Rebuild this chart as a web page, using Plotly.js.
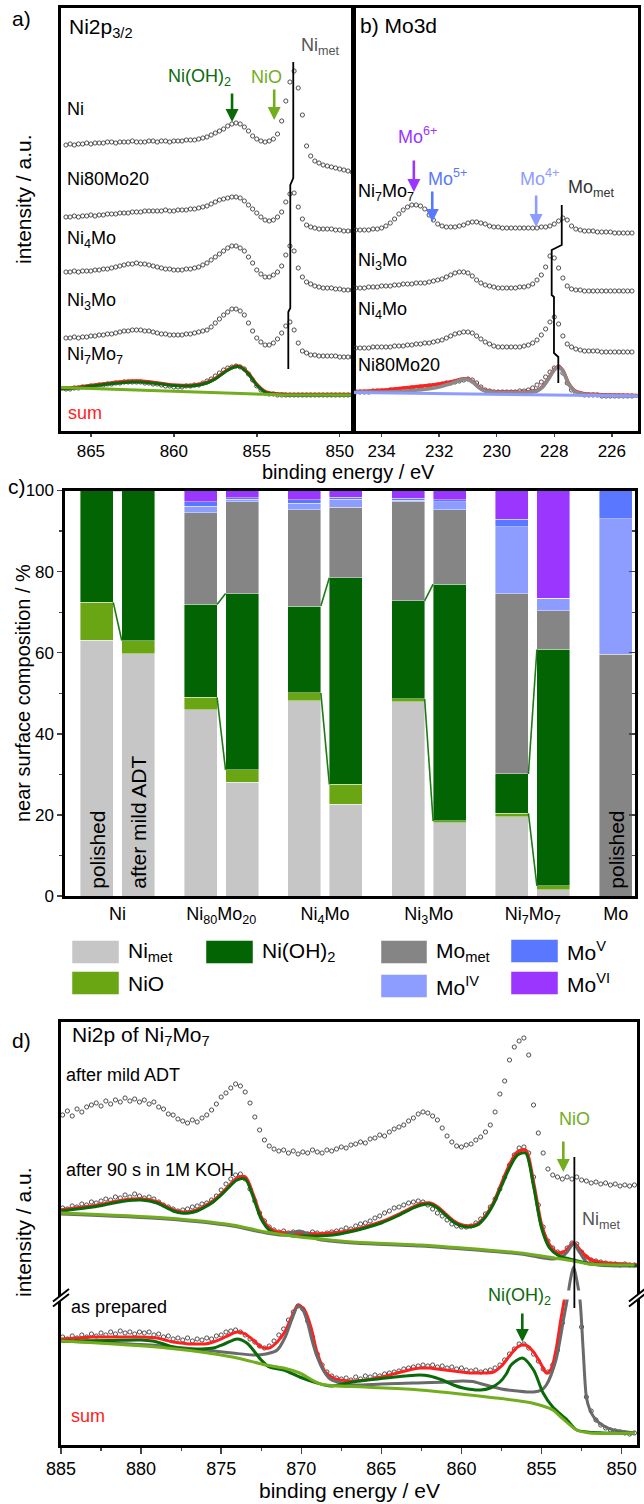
<!DOCTYPE html>
<html><head><meta charset="utf-8">
<script src="https://cdn.plot.ly/plotly-3.0.1.min.js"></script>
<style>body{margin:0;padding:0;background:#fff}#chart{width:644px;height:1504px}</style>
</head><body><div id="chart"></div>
<script>
// ---------------- DATA ----------------
// Panel a: Ni2p3/2 (binding energy grid, eV) and stacked intensities (a.u.)
const energyA = [866.5,866.25,866,865.75,865.5,865.25,865,864.75,864.5,864.25,864,863.75,863.5,863.25,863,862.75,862.5,862.25,862,861.75,861.5,861.25,861,860.75,860.5,860.25,860,859.75,859.5,859.25,859,858.75,858.5,858.25,858,857.75,857.5,857.25,857,856.75,856.5,856.25,856,855.75,855.5,855.25,855,854.75,854.5,854.25,854,853.75,853.5,853.25,853,852.75,852.5,852.25,852,851.75,851.5,851.25,851,850.75,850.5,850.25,850,849.75,849.5,849.25];
const aNi = [286,287,286,287,287,288,287,288,288,288,289,289,288,289,289,289,290,289,289,289,290,290,289,290,290,289,290,290,290,291,291,291,292,293,294,296,298,300,302,305,307,308,307,304,300,295,292,290,289,290,292,297,310,330,349,360,343,316,285,275,270,268,266,265,264,263,262,261,260,259];
const aNi80Mo20 = [214,214,215,214,215,215,216,215,216,216,217,217,217,218,218,218,219,219,219,220,220,220,220,220,221,220,220,221,221,221,222,222,223,224,225,227,229,231,232,233,234,234,233,230,226,222,218,214,211,210,211,214,219,229,237,238,224,212,206,204,203,202,202,202,202,201,201,200,200,200];
const aNi4Mo = [159,159,160,159,160,160,160,161,161,162,162,163,164,165,166,167,167,168,167,167,166,165,164,163,162,162,161,161,161,162,162,163,164,166,168,171,174,177,180,183,185,185,183,180,174,168,161,157,154,154,156,159,165,176,185,180,163,154,149,147,145,144,143,143,143,142,142,141,141,141];
const aNi3Mo = [93,93,94,93,94,94,95,95,96,96,97,97,98,99,100,100,101,101,101,100,100,99,98,97,97,96,96,96,96,97,97,98,99,100,101,104,108,112,116,119,122,122,120,116,108,100,93,89,86,86,88,92,98,105,109,101,88,80,78,76,76,75,75,75,75,75,74,74,74,74];
const aNi7Mo7 = [42,42,43,43,44,44,45,45,46,46,47,47,48,48,49,49,49,49,49,48,48,47,47,46,45,45,44,44,44,45,45,46,46,48,50,52,55,58,61,63,64,65,64,62,57,51,45,41,38,37,37,36,36,36,36,36,36,36,36,36,36,36,36,36,36,36,36,36,36,36];
// fit of Ni7Mo7 (panel a)
const fitEnergyA = [866.8,866,865,864,863,862.5,862,861,860,859.5,859,858.5,858,857.5,857,856.5,856.2,856,855.5,855,854.5,854,853.5,853,852,851,850,849.2];
const fitA_NiOH2 = [42,43,45,47,48.5,49,49,47.5,45.5,45,45,46,48,52,58,63,64.5,64,57,46,39,37,36.5,36,36,36,36,36];
const fitA_sum = [42.5,43.5,45.5,47.5,49.5,50,50,48,46,45.5,45.5,46.5,48.5,52.5,58.5,63.5,65,64.5,57.5,46.5,39.5,37.5,37,36.5,36.5,36.5,36.5,36.5];
const baseEnergyA = [866.8,854.5,853.5,849.2];
const baseA = [43.5,37.3,36.2,36];
const nimetLineE = [852.8,852.8,852.98,852.98,853.1,853.1];
const nimetLineI = [369,253,246,123,119,62];

// Panel b: Mo3d
const energyB = [234.9,234.75,234.6,234.45,234.3,234.15,234,233.85,233.7,233.55,233.4,233.25,233.1,232.95,232.8,232.65,232.5,232.35,232.2,232.05,231.9,231.75,231.6,231.45,231.3,231.15,231,230.85,230.7,230.55,230.4,230.25,230.1,229.95,229.8,229.65,229.5,229.35,229.2,229.05,228.9,228.75,228.6,228.45,228.3,228.15,228,227.85,227.7,227.55,227.4,227.25,227.1,226.95,226.8,226.65,226.5,226.35,226.2,226.05,225.9,225.75,225.6,225.45,225.3];
const bNi7Mo7 = [201,201,201,201,202,202,203,205,208,212,217,221,224,226,226,225,222,216,211,207,205,204,204,204,205,206,208,209,209,208,207,205,204,204,203,203,203,203,203,203,203,203,203,204,204,205,207,210,213,211,205,202,201,200,200,200,199,199,199,199,198,198,198,198,198];
const bNi3Mo = [143,143,143,144,144,144,145,145,145,146,146,147,147,147,148,148,148,149,150,151,152,154,156,158,159,159,158,155,151,148,146,145,144,143,143,143,143,143,144,144,145,147,151,156,164,175,173,163,153,145,142,141,141,140,140,140,140,140,140,140,140,140,140,140,140];
const bNi4Mo = [83,83,83,83,84,84,84,84,84,85,85,85,86,86,87,87,88,88,89,90,91,93,95,97,98,99,99,98,95,92,89,87,85,84,84,84,84,84,84,85,86,88,91,96,102,109,114,107,95,87,84,82,81,80,80,80,80,79,79,79,79,79,79,79,79];
const bNi80Mo20 = [39,39,39,39,40,40,40,40,41,41,41,42,42,43,43,44,44,45,45,46,47,48,48,49,50,51,52,51,48,44,41,40,39,39,39,39,39,39,40,40,41,43,46,49,54,59,63,64,58,48,41,38,37,36,36,36,36,35,35,35,35,35,35,35,35];
const fitEnergyB = [234.9,234.4,233.9,233.4,232.9,232.4,232.0,231.7,231.4,231.2,231.0,230.8,230.6,230.4,230.1,229.6,229.0,228.6,228.4,228.2,228.0,227.85,227.7,227.5,227.3,227.0,226.5,225.9,225.1];
const fitB_Momet = [39,39,39,39.5,40.5,42,44,46.5,49.5,51.5,51.5,48,43,40,39,38.5,38.5,40,44,52,61,64,60,47,40,37,36,35.5,35];
const fitB_sum = [39.5,40,41,42.5,44,45.5,47,48.5,50.5,52,52,48.5,43.5,40.5,39.5,39,39,40.5,44.5,52.5,61.5,64.5,60.5,47.5,40.5,37.5,36.5,36,35.5];
const baseEnergyB = [234.96,225.1];
const baseB = [38.5,35];
const mometLineE = [227.74,227.74,228.09,228.09,228.01,228.01,227.86,227.86];
const mometLineI = [226,186,181,136,134,78,74,48];

// Panel c: near surface composition (%)
const groups = ['Ni','Ni80Mo20','Ni4Mo','Ni3Mo','Ni7Mo7','Mo'];
const groupLabels = ['Ni','Ni<sub>80</sub>Mo<sub>20</sub>','Ni<sub>4</sub>Mo','Ni<sub>3</sub>Mo','Ni<sub>7</sub>Mo<sub>7</sub>','Mo'];
const barGroup = ['Ni','Ni','Ni80Mo20','Ni80Mo20','Ni4Mo','Ni4Mo','Ni3Mo','Ni3Mo','Ni7Mo7','Ni7Mo7','Mo'];
const barState = ['polished','ADT','polished','ADT','polished','ADT','polished','ADT','polished','ADT','polished'];
const compNames = ['Ni<sub>met</sub>','NiO','Ni(OH)<sub>2</sub>','Mo<sub>met</sub>','Mo<sup>IV</sup>','Mo<sup>V</sup>','Mo<sup>VI</sup>'];
const cNimet  = [63.1,59.7,45.9,28.0,48.1,22.6,47.9,18.1,19.6,1.5,0];
const cNiO    = [9.3,3.3,3.1,3.1,2.0,4.9,0.7,0.4,0.8,1.0,0];
const cNiOH2  = [27.6,37.0,22.9,43.5,21.4,51.0,24.2,58.4,9.7,58.3,0];
const cMomet  = [0,0,22.6,22.6,23.7,17.4,24.4,18.3,44.4,9.6,59.6];
const cMoIV   = [0,0,1.6,0.6,1.6,1.9,0.4,2.0,16.6,3.0,33.4];
const cMoV    = [0,0,1.1,0.4,0.9,0.5,0.5,0.5,1.8,0.0,7.0];
const cMoVI   = [0,0,2.8,1.8,2.3,1.7,1.9,2.3,7.1,26.6,0];

// Panel d: Ni2p of Ni7Mo7
const energyD = [884.9,884.6,884.3,884.0,883.7,883.4,883.1,882.8,882.5,882.2,881.9,881.6,881.3,881.0,880.7,880.4,880.1,879.8,879.5,879.2,878.9,878.6,878.3,878.0,877.7,877.4,877.1,876.8,876.5,876.2,875.9,875.6,875.3,875.0,874.7,874.4,874.1,873.8,873.5,873.2,872.9,872.6,872.3,872.0,871.7,871.4,871.1,870.8,870.5,870.2,869.9,869.6,869.3,869.0,868.7,868.4,868.1,867.8,867.5,867.2,866.9,866.6,866.3,866.0,865.7,865.4,865.1,864.8,864.5,864.2,863.9,863.6,863.3,863.0,862.7,862.4,862.1,861.8,861.5,861.2,860.9,860.6,860.3,860.0,859.7,859.4,859.1,858.8,858.5,858.2,857.9,857.6,857.3,857.0,856.7,856.4,856.1,855.8,855.5,855.2,854.9,854.6,854.3,854.0,853.7,853.4,853.1,852.8,852.5,852.2,851.9,851.6,851.3,851.0,850.7,850.4,850.1,849.8,849.5,849.2];
const dAfterADT = [330,334,329,336,333,338,340,342,339,344,341,345,343,347,344,346,343,345,341,343,338,336,331,330,326,324,322,325,323,327,330,335,341,348,352,357,361,359,353,342,328,315,305,299,296,294,295,292,294,291,293,292,295,293,292,295,294,296,298,297,300,301,303,302,306,307,310,309,313,316,318,320,324,327,331,333,332,329,325,317,309,303,299,298,300,301,305,308,313,320,333,351,364,385,398,404,407,390,340,312,292,276,270,268,266,268,266,268,265,264,262,263,261,262,260,261,259,260,259,260];
const dAfterKOH = [237,236,239,238,241,240,243,242,244,246,245,248,247,250,248,251,249,247,248,246,243,240,238,236,234,235,236,238,239,241,242,245,249,255,261,266,270,271,266,256,244,232,224,218,215,213,214,212,213,211,212,211,213,212,211,212,213,214,215,217,216,219,221,222,224,227,229,232,234,237,238,240,242,243,244,243,240,236,232,229,225,221,219,218,218,219,222,226,231,238,246,256,268,280,290,297,298,292,268,240,218,204,197,193,192,197,202,201,193,188,185,184,183,182,181,181,180,181,180,180];
const dAsPrepared = [108,106,109,107,110,108,111,109,112,110,113,111,114,112,113,111,113,112,113,110,111,108,109,106,107,105,107,104,106,105,107,106,109,110,113,114,115,113,110,106,103,99,97,99,104,110,116,125,133,139,136,124,108,91,80,73,69,67,66,67,65,68,66,69,68,70,69,71,72,73,74,76,77,78,79,80,79,80,78,79,77,78,76,77,75,74,75,73,74,75,77,80,85,91,96,101,101,97,91,84,76,73,80,95,122,null,null,null,118,48,34,25,20,17,15,14,13,12,11,12];
// fits, after 90 s in KOH
const fitEnergyKOH = [885,884,883,882,881,880,879,878.5,878,877.5,877,876.5,876,875.5,875,874.5,874,873.5,873,872.5,872,871.5,871,870.5,870,869,868,867,866,865,864,863,862.5,862,861.5,861,860.5,860,859.5,859,858.5,858,857.5,857,856.5,856,855.5,855,854.5,854,853.5,853,852.5,852,851.5,851,850,849];
const koh_sum = [235,237,239,242,245,246,243,239,235,233,233,235,239,244,251,259,267,268,250,228,217,213,212,212,212,211,212,214,218,223,230,238,241,242,238,231,224,220,219,221,229,242,261,280,293,295,262,220,200,192,194,202,193,186,183,182,181,180];
const koh_NiOH2 = [234,236,238,241,244,245,242,238,234,232,232,234,238,243,250,258,265,266,248,226,215,211,210,209,209,209,210,213,217,222,229,237,240,241,237,230,223,219,218,220,228,241,259,277,290,292,259,217,197,190,187,185,183,181,181,180,180,179];
const kohNimetE = [885,878.4,874.3,872.2,871.2,870.6,870.1,869.6,869,868.2,866.8,862.6,858.4,856.3,854.4,853.8,853.4,853.0,852.6,852.2,851.5,849.2];
const koh_Nimet = [231,226,219,212,210,212,214,211,206,204,202,199,194,191,186,187,193,201,192,183,180,179];
const kohBaseE = [885,878.4,874.3,872.2,870.1,868.2,866.8,862.6,858.4,856.3,854.2,853,852,849.2];
const koh_base = [232,227,220,213,208,205,203,200,195,192,187,184,181,180];
// fits, as prepared
const prepSumE = [885,884,883,882,881,880,879,878.5,878,877.5,877,876.5,876,875.5,875,874.5,874,873.5,873,872.5,872,871.5,871,870.6,870.2,869.8,869.4,869,868.5,868,867,866,865,864,863,862.5,862,861.5,861,860.5,860,859.5,859,858.5,858,857.5,857,856.5,856,855.5,855,854.7,854.4,854.1,853.8,853.55];
const prep_sum = [106,107,108,108,108,108,107,105,103,102,101,101,101,103,106,110,113,111,105,98,97,103,114,128,140,135,118,92,73,67,64,65,68,72,76,77,77,76,75,74,73,72,72,72,73,79,89,98,100,93,80,72,76,95,125,148];
const prepNimetE = [885,882,879,878,876,874.3,873,872.2,871.5,871,870.6,870.2,869.9,869.6,869.3,869,868.6,868.2,867.5,866.8,865,863,861,860,859.3,858.5,857.5,856.5,855.5,855,854.7,854.1,853.6,853.4,853.2,853.0,852.8,852.6,852.4,852.2,852.0,851.6,851.0,850.5,849.2];
const prep_Nimet = [104,102,99.5,98,95,92,90,91,95,108,125,139,135,122,103,88,74,66,62,60,61,62,63,64,63.5,60,56,54,53,55,60,85,128,145,165,178,165,145,95,48,36,25,18,15,12];
const prepNiOH2E = [885,882,880,879.3,878.6,878,877.2,876.3,875.5,874.8,874.0,873.4,873.0,872.5,872.0,871.1,870.1,869.0,868.2,866.8,864.7,863.5,862.6,862,861.2,860.5,859.9,858.8,858.2,857.6,857.2,856.9,856.2,855.5,854.9,854.3,853.4,852.8,851.1,849.2];
const prep_NiOH2 = [104,104.5,105,104,101,98,96,96,97,101,106,102,95,85,78,75,68,62,59,63,67,69,70,69,65,60,57,55,57,63,71,80,87,75,52,38,25,15,12,12];
const prepBaseE = [885,878.4,874.3,872.2,871.1,870.1,868.8,866,862.6,858.4,855.6,854.3,853.8,852.8,852.0,849.2];
const prep_base = [104,97,88,80,77,72,61,58,55,48,42,35,28,15,12,12];
const nimetLineDE = [852.95,852.95];
const nimetLineDI = [288,137];
const breakLevelD = 150;

// ---------------- STYLE / LAYOUT HELPERS ----------------
const W = 644, H = 1504;
const FONT = 'Liberation Sans, Arial, Helvetica, sans-serif';
const px = x => x / W, py = y => 1 - y / H;
const COL = {data:'#3c3c3c', red:'#ff2020', dk:'#0a6a0a', lt:'#72ad1e', gray:'#707070',
  nimet:'#c6c6c6', nio:'#6aa514', nioh:'#026402', momet:'#858585', mo4:'#8c9cff', mo5:'#5a78ff', mo6:'#9a36ff', lav:'#8f9cff'};
const compColors = [COL.nimet, COL.nio, COL.nioh, COL.momet, COL.mo4, COL.mo5, COL.mo6];

const traces = [];
function pts(x, y, xa, ya) {
  traces.push({type:'scatter', mode:'markers', x, y, xaxis:xa, yaxis:ya, hoverinfo:'skip', showlegend:false,
    marker:{symbol:'circle-open', size:4.2, color:COL.data, line:{width:0.9, color:COL.data}}});
}
function line(x, y, xa, ya, color, width, shape) {
  traces.push({type:'scatter', mode:'lines', x, y, xaxis:xa, yaxis:ya, hoverinfo:'skip', showlegend:false,
    line:{color, width, shape: shape || 'spline', smoothing: 0.8}});
}

// Panel a
[aNi, aNi80Mo20, aNi4Mo, aNi3Mo, aNi7Mo7].forEach(s => pts(energyA, s, 'x', 'y'));
line(fitEnergyA, fitA_sum, 'x', 'y', COL.red, 3.5);
line(fitEnergyA, fitA_NiOH2, 'x', 'y', COL.dk, 3);
line(baseEnergyA, baseA, 'x', 'y', COL.lt, 3, 'linear');
line(nimetLineE, nimetLineI, 'x', 'y', '#000', 1.8, 'linear');

// Panel b
[bNi7Mo7, bNi3Mo, bNi4Mo, bNi80Mo20].forEach(s => pts(energyB, s, 'x2', 'y2'));
line(fitEnergyB, fitB_sum, 'x2', 'y2', COL.red, 3.5);
line(fitEnergyB, fitB_Momet, 'x2', 'y2', '#8a8a8a', 3.5);
line(baseEnergyB, baseB, 'x2', 'y2', COL.lav, 3, 'linear');
line(mometLineE, mometLineI, 'x2', 'y2', '#000', 1.8, 'linear');

// Panel c
const barX = barGroup.map((g, i) => groups.indexOf(g) + (barState[i] === 'polished' ? -0.2 : 0.2));
const barW = 0.318;
[cNimet, cNiO, cNiOH2, cMomet, cMoIV, cMoV, cMoVI].forEach((vals, k) => {
  traces.push({type:'bar', x:barX, y:vals, width:barW, xaxis:'x3', yaxis:'y3', showlegend:false, hoverinfo:'skip',
    marker:{color:compColors[k], line:{width:0.6, color:'rgba(255,255,255,0.7)'}}});
});
groups.forEach(g => {
  const ip = barGroup.findIndex((gg, i) => gg === g && barState[i] === 'polished');
  const ia = barGroup.findIndex((gg, i) => gg === g && barState[i] === 'ADT');
  if (ip < 0 || ia < 0) return;
  const lowP = cNimet[ip] + cNiO[ip], lowA = cNimet[ia] + cNiO[ia];
  const topP = lowP + cNiOH2[ip], topA = lowA + cNiOH2[ia];
  const x0 = barX[ip] + barW / 2, x1 = barX[ia] - barW / 2;
  line([x0, x1], [lowP, lowA], 'x3', 'y3', '#1f7a16', 1.6, 'linear');
  line([x0, x1], [topP, topA], 'x3', 'y3', '#1f7a16', 1.6, 'linear');
});
traces.push({type:'scatter', mode:'markers', x:[0], y:[0], xaxis:'x3', yaxis:'y6', marker:{opacity:0}, hoverinfo:'skip', showlegend:false});
const tickPos = groups.map(g => {
  const xs = barX.filter((_, i) => barGroup[i] === g);
  return xs.reduce((a, b) => a + b, 0) / xs.length;
});

// Panel d
pts(energyD, dAfterADT, 'x4', 'y4');
pts(energyD, dAfterKOH, 'x4', 'y4');
pts(energyD, dAsPrepared, 'x4', 'y4');
line(fitEnergyKOH, koh_sum, 'x4', 'y4', COL.red, 3.5);
line(kohNimetE, koh_Nimet, 'x4', 'y4', '#6a6a6a', 3);
line(fitEnergyKOH, koh_NiOH2, 'x4', 'y4', COL.dk, 3);
line(kohBaseE, koh_base, 'x4', 'y4', COL.lt, 3);
line(prepSumE, prep_sum, 'x4', 'y4', COL.red, 3);
line(prepNimetE, prep_Nimet, 'x4', 'y4', '#6a6a6a', 3);
line(prepNiOH2E, prep_NiOH2, 'x4', 'y4', COL.dk, 3);
line(prepBaseE, prep_base, 'x4', 'y4', COL.lt, 3);
line([853.75, 852.3], [breakLevelD, breakLevelD], 'x4', 'y4', '#ffffff', 9, 'linear');
line(nimetLineDE, nimetLineDI, 'x4', 'y4', '#000', 1.8, 'linear');

// ---------------- AXES ----------------
const frame = {showline:true, mirror:true, linewidth:2.6, linecolor:'#000', showgrid:false, zeroline:false};
const tickF = {family:FONT, size:18, color:'#000'};
const tickC = {family:FONT, size:17, color:'#000'};
const layout = {
  width:W, height:H, margin:{l:0, r:0, t:0, b:0}, paper_bgcolor:'#fff', plot_bgcolor:'#fff',
  font:{family:FONT, color:'#000'}, showlegend:false, barmode:'stack', bargap:0,
  xaxis: Object.assign({}, frame, {domain:[px(61), px(353)], range:[866.8, 849.2], anchor:'y', tick0:850, dtick:5,
    ticks:'outside', ticklen:3, tickwidth:1.5, tickfont:tickC}),
  yaxis: Object.assign({}, frame, {domain:[py(431), py(8)], range:[0, 423], anchor:'x', showticklabels:false, ticks:''}),
  xaxis2: Object.assign({}, frame, {domain:[px(354), px(638)], range:[234.96, 225.09], anchor:'y2', tick0:226, dtick:2,
    ticks:'outside', ticklen:3, tickwidth:1.5, tickfont:tickC}),
  yaxis2: Object.assign({}, frame, {domain:[py(431), py(8)], range:[0, 423], anchor:'x2', showticklabels:false, ticks:''}),
  xaxis3: Object.assign({}, frame, {domain:[px(65), px(635)], range:[-0.506, 4.986], anchor:'y3', tickvals:tickPos,
    ticktext:groupLabels, ticks:'', tickfont:tickF}),
  yaxis3: Object.assign({}, frame, {domain:[py(896), py(490.5)], range:[0, 100], anchor:'x3', dtick:20, ticks:'outside',
    ticklen:5, tickwidth:1.5, tickfont:tickC, minor:{dtick:10, ticks:'outside', ticklen:3, tickwidth:1.2}}),
  yaxis6: {overlaying:'y3', side:'right', anchor:'x3', range:[0, 100], showgrid:false, zeroline:false, showline:false,
    showticklabels:false, ticks:'inside', dtick:20, ticklen:6, tickwidth:1.5, minor:{dtick:10, ticks:'inside', ticklen:3, tickwidth:1.2}},
  xaxis4: Object.assign({}, frame, {domain:[px(61), px(637)], range:[885, 849.04], anchor:'y4', tick0:850, dtick:5,
    ticks:'outside', ticklen:6, tickwidth:1.5, tickfont:tickF, minor:{dtick:2.5, ticks:'outside', ticklen:3, tickwidth:1.2}}),
  yaxis4: Object.assign({}, frame, {domain:[py(1445), py(1022)], range:[0, 423], anchor:'x4', showticklabels:false, ticks:''}),
};

// ---------------- ANNOTATIONS ----------------
const ann = [];
function txt(text, x, y, opts) {
  ann.push(Object.assign({text, x:px(x), y:py(y), xref:'paper', yref:'paper', showarrow:false,
    xanchor:'left', yanchor:'middle', font:{family:FONT, size:18, color:'#000'}}, opts || {}));
}
function arrow(xa, ya, x, y, ay, color) {
  ann.push({text:'', x, y, xref:xa, yref:ya, showarrow:true, ax:0, ay, arrowhead:2, arrowsize:1,
    arrowwidth:2.6, arrowcolor:color, standoff:0});
}
const big = {family:FONT, size:21, color:'#000'};
// panel letters & titles
txt('a)', 10, 18, {font:big});
txt('c)', 6, 486, {font:big});
txt('d)', 10, 1040, {font:big});
txt('Ni2p<sub>3/2</sub>', 67, 28, {font:big});
txt('b) Mo3d', 358, 26, {font:big});
txt('Ni2p of Ni<sub>7</sub>Mo<sub>7</sub>', 70, 1036, {font:big});
// axis titles
txt('binding energy / eV', 348, 472, {xanchor:'center', font:{family:FONT, size:20, color:'#000'}});
txt('binding energy / eV', 349, 1490, {xanchor:'center', font:big});
txt('intensity / a.u.', 23, 199, {xanchor:'center', textangle:-90, font:big});
txt('near surface composition / %', 23, 693, {xanchor:'center', textangle:-90, font:{family:FONT, size:20, color:'#000'}});
txt('intensity / a.u.', 23, 1232, {xanchor:'center', textangle:-90, font:big});
// panel a labels
txt('Ni', 65, 109); txt('Ni80Mo20', 65, 179); txt('Ni<sub>4</sub>Mo', 65, 240);
txt('Ni<sub>3</sub>Mo', 65, 301); txt('Ni<sub>7</sub>Mo<sub>7</sub>', 65, 356);
txt('sum', 66, 413, {font:{family:FONT, size:18, color:COL.red}});
txt('Ni(OH)<sub>2</sub>', 200, 77, {xanchor:'center', font:{family:FONT, size:18, color:COL.dk}});
txt('NiO', 266, 77, {xanchor:'center', font:{family:FONT, size:18, color:COL.lt}});
txt('Ni<sub>met</sub>', 299, 46, {font:{family:FONT, size:18, color:'#555'}});
arrow('x', 'y', 856.49, 309, -30, '#0a6a0a');
arrow('x', 'y', 853.95, 311, -32, COL.lt);
// panel b labels
txt('Ni<sub>7</sub>Mo<sub>7</sub>', 356, 193); txt('Ni<sub>3</sub>Mo', 356, 262);
txt('Ni<sub>4</sub>Mo', 356, 311); txt('Ni80Mo20', 356, 365);
txt('Mo<sup>6+</sup>', 417, 135, {xanchor:'center', font:{family:FONT, size:18, color:COL.mo6}});
txt('Mo<sup>5+</sup>', 447, 178, {xanchor:'center', font:{family:FONT, size:18, color:COL.mo5}});
txt('Mo<sup>4+</sup>', 539, 178, {xanchor:'center', font:{family:FONT, size:18, color:COL.mo4}});
txt('Mo<sub>met</sub>', 566, 188, {font:{family:FONT, size:18, color:'#333'}});
arrow('x2', 'y2', 232.88, 239, -33, COL.mo6);
arrow('x2', 'y2', 232.24, 209, -32, COL.mo5);
arrow('x2', 'y2', 228.63, 204, -33, COL.mo4);
// panel c rotated labels
function inBar(text, i) {
  ann.push({text, x:barX[i], y:py(891), xref:'x3', yref:'paper', showarrow:false, textangle:-90,
    xanchor:'center', yanchor:'bottom', font:{family:FONT, size:21, color:'#000'}});
}
inBar('polished', 0); inBar('after mild ADT', 1); inBar('polished', 10);
// legend (manual, column-wise like the original)
const shapes = [];
const legendItems = [
  [0, 72, 119, 952], [1, 72, 119, 983], [2, 206, 253, 952],
  [3, 381, 427, 952], [4, 381, 427, 986], [5, 511, 558, 951], [6, 511, 558, 983]];
legendItems.forEach(([k, x0, x1, yc]) => {
  shapes.push({type:'rect', xref:'paper', yref:'paper', x0:px(x0), x1:px(x1), y0:py(yc + 11.5), y1:py(yc - 11.5),
    fillcolor:compColors[k], line:{width:0.6, color:'rgba(255,255,255,0.8)'}});
  txt(compNames[k], x1 + 7, yc, {font:big});
});
// panel d labels
txt('after mild ADT', 64, 1075); txt('after 90 s in 1M KOH', 64, 1170); txt('as prepared', 69, 1307);
txt('sum', 69, 1416, {font:{family:FONT, size:18, color:COL.red}});
txt('NiO', 574, 1119, {xanchor:'center', font:{family:FONT, size:18, color:COL.lt}});
txt('Ni<sub>met</sub>', 580, 1220, {font:{family:FONT, size:18, color:'#555'}});
txt('Ni(OH)<sub>2</sub>', 519, 1296, {xanchor:'center', font:{family:FONT, size:18, color:COL.dk}});
arrow('x4', 'y4', 853.64, 273, -32, COL.lt);
arrow('x4', 'y4', 856.2, 103, -30, '#0a6a0a');
// axis break marks in panel d
[61, 637].forEach(xc => {
  const yc = 1297;
  shapes.push({type:'path', xref:'paper', yref:'paper', fillcolor:'#fff', line:{width:0},
    path:`M ${px(xc-7)},${py(yc+4)} L ${px(xc+7)},${py(yc-7)} L ${px(xc+7)},${py(yc-2)} L ${px(xc-7)},${py(yc+9)} Z`});
  shapes.push({type:'line', xref:'paper', yref:'paper', x0:px(xc-8), y0:py(yc+4.5), x1:px(xc+8), y1:py(yc-8), line:{color:'#000', width:2}});
  shapes.push({type:'line', xref:'paper', yref:'paper', x0:px(xc-8), y0:py(yc+9.5), x1:px(xc+8), y1:py(yc-3), line:{color:'#000', width:2}});
});
layout.annotations = ann;
layout.shapes = shapes;

Plotly.newPlot('chart', traces, layout, {staticPlot:true, displayModeBar:false});
</script></body></html>
